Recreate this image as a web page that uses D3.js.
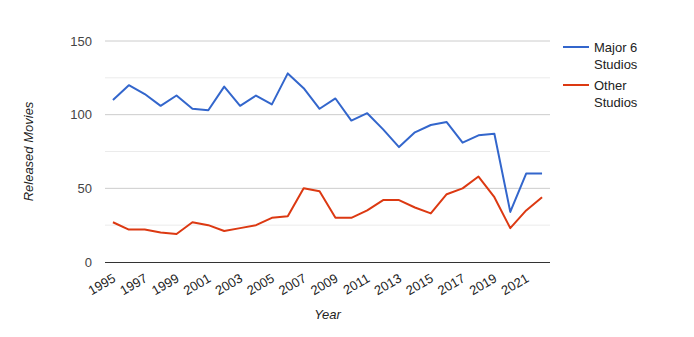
<!DOCTYPE html>
<html><head><meta charset="utf-8">
<script src="https://cdn.jsdelivr.net/npm/d3@7"></script>
<style>body{margin:0;background:#fff;font-family:Arial,"Liberation Sans",sans-serif;}</style>
</head><body><div id="chart"></div>
<script>
const years = [1995,1996,1997,1998,1999,2000,2001,2002,2003,2004,2005,2006,2007,2008,2009,2010,2011,2012,2013,2014,2015,2016,2017,2018,2019,2020,2021,2022];
const major6 = [110,120,114,106,113,104,103,119,106,113,107,128,118,104,111,96,101,90,78,88,93,95,81,86,87,34,60,60];
const other = [27,22,22,20,19,27,25,21,23,25,30,31,50,48,30,30,35,42,42,37,33,46,50,58,44,23,35,44];
const seriesNames = ["Major 6 Studios","Other Studios"];
const colors = ["#3366cc","#dc3912"];
const yTicks = [0,50,100,150];
const yMinor = [25,75,125];

const W=694,H=337;
const m={left:105,right:144,top:41,bottom:75};
const FS=13;
const svg=d3.select("#chart").append("svg").attr("width",W).attr("height",H);
const x=d3.scalePoint().domain(years).range([m.left,W-m.right]).padding(0.5);
const y=d3.scaleLinear().domain([0,150]).range([H-m.bottom,m.top]);

svg.append("g").selectAll("line").data(yMinor).join("line")
  .attr("x1",m.left).attr("x2",W-m.right).attr("y1",d=>y(d)).attr("y2",d=>y(d))
  .attr("stroke","#ebebeb").attr("stroke-width",1);
svg.append("g").selectAll("line").data(yTicks.filter(d=>d>0)).join("line")
  .attr("x1",m.left).attr("x2",W-m.right).attr("y1",d=>y(d)).attr("y2",d=>y(d))
  .attr("stroke","#cccccc").attr("stroke-width",1);

const yAxis=svg.append("g").attr("transform",`translate(${m.left},0)`)
  .call(d3.axisLeft(y).tickValues(yTicks).tickSize(0).tickPadding(13));
yAxis.select(".domain").remove();
yAxis.selectAll("text").attr("font-size",FS).attr("fill","#444").attr("font-family","Arial,'Liberation Sans',sans-serif");

const xAxis=svg.append("g").attr("transform",`translate(0,${y(0)})`)
  .call(d3.axisBottom(x).tickValues(years.filter((d,i)=>i%2===0)).tickSize(0).tickFormat(d3.format("d")));
xAxis.select(".domain").remove();
xAxis.selectAll("text").attr("font-size",FS).attr("fill","#222").attr("font-family","Arial,'Liberation Sans',sans-serif")
  .attr("text-anchor","end").attr("dy",null).attr("y",0)
  .attr("transform","translate(3,19) rotate(-30)");

const line=d3.line().x((d,i)=>x(years[i])).y(d=>y(d));
[major6,other].forEach((s,k)=>{
  svg.append("path").datum(s).attr("d",line).attr("fill","none")
    .attr("stroke",colors[k]).attr("stroke-width",2).attr("stroke-linejoin","round");
});

svg.append("line").attr("x1",m.left).attr("x2",W-m.right).attr("y1",y(0)+0.5).attr("y2",y(0)+0.5)
  .attr("stroke","#333").attr("stroke-width",1);

svg.append("text").attr("x",(m.left+W-m.right)/2).attr("y",319).attr("text-anchor","middle")
  .attr("font-size",FS).attr("font-style","italic").attr("fill","#222").text("Year");
svg.append("text").attr("transform",`translate(33,${(m.top+H-m.bottom)/2}) rotate(-90)`)
  .attr("text-anchor","middle").attr("font-size",FS).attr("font-style","italic").attr("fill","#222").text("Released Movies");

const leg=svg.append("g");
seriesNames.forEach((n,k)=>{
  const ly=47+k*38;
  leg.append("line").attr("x1",563).attr("x2",589).attr("y1",ly).attr("y2",ly).attr("stroke",colors[k]).attr("stroke-width",2);
  const words=n.split(" ");
  const l1=words.slice(0,words.length-1).join(" "), l2=words[words.length-1];
  leg.append("text").attr("x",594).attr("y",ly+5).attr("font-size",FS).attr("fill","#222").text(l1);
  leg.append("text").attr("x",594).attr("y",ly+22).attr("font-size",FS).attr("fill","#222").text(l2);
});
</script></body></html>
